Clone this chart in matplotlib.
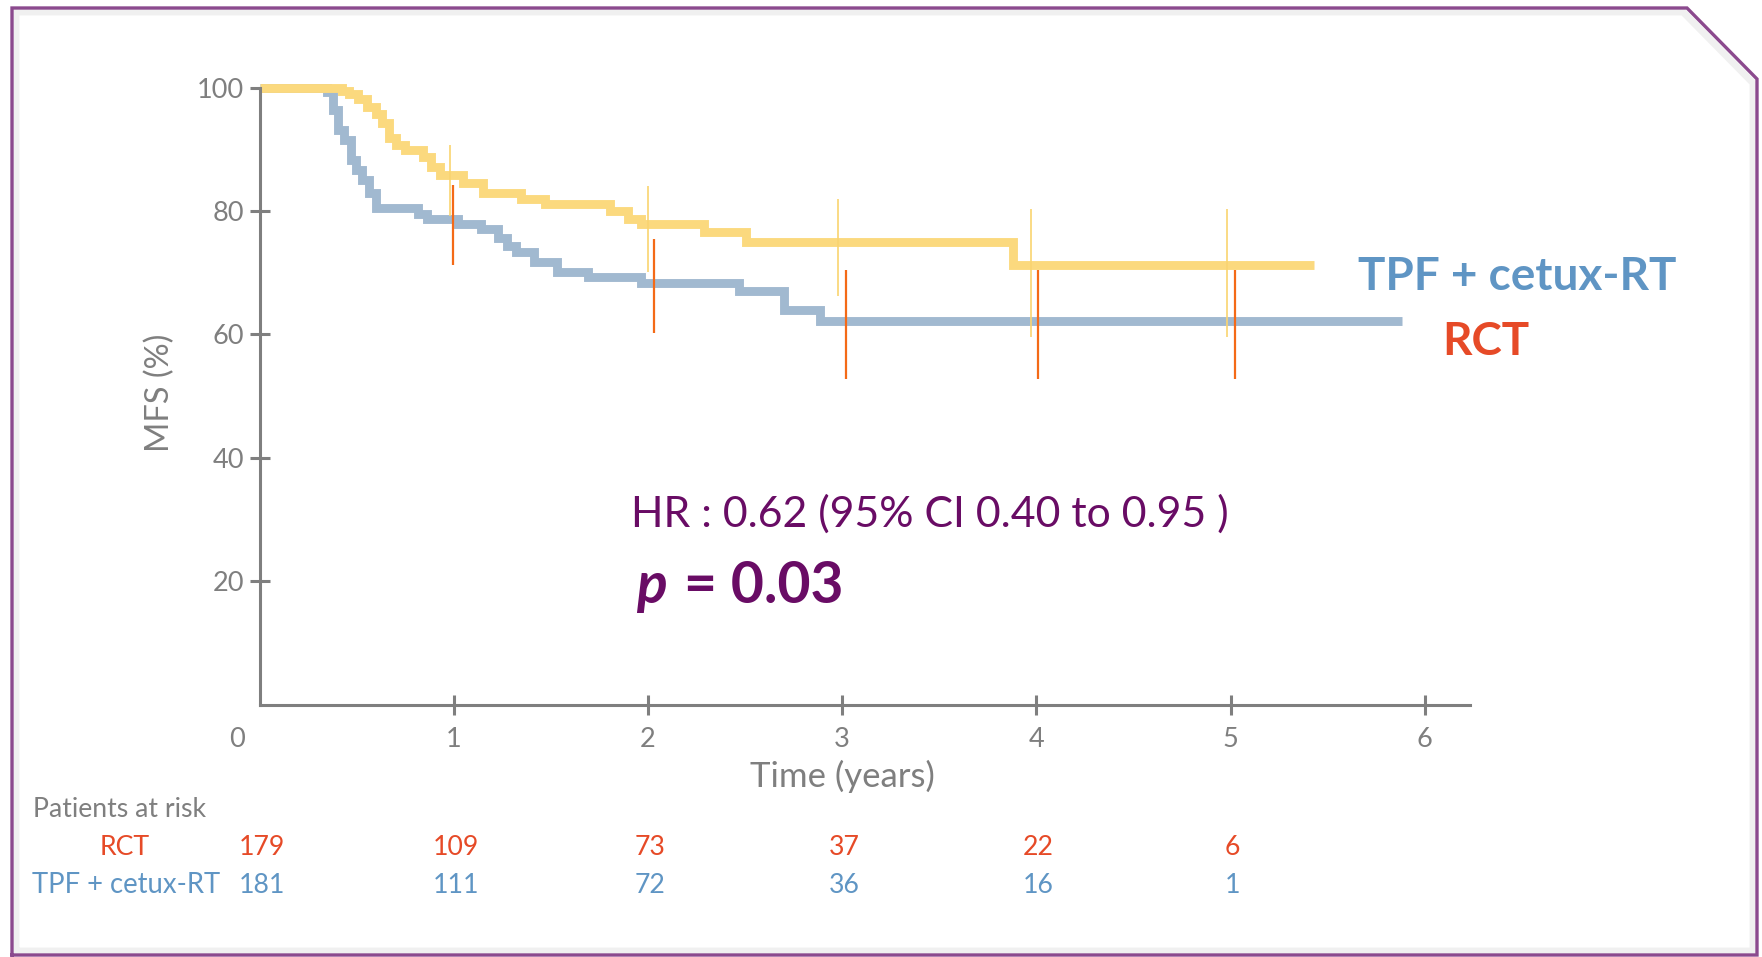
#!/usr/bin/env python3

import matplotlib

matplotlib.use("Agg")

from matplotlib.lines import Line2D
from matplotlib.pyplot import figure, rcParams
from matplotlib.transforms import blended_transform_factory

rcParams["font.family"] = ["Lato", "DejaVu Sans"]

W, H = 1762, 957

GRAY = "#7f7f7f"
PURPLE = "#690c65"
RED = "#e64a27"
BLUE = "#5f95c4"
YELLOW = "#fbd97e"
STEEL = "#a1b9d0"
RED_CI = "#f46a17"
YELLOW_CI = "#f9d470"

# yellow curve (labelled TPF + cetux-RT on the chart)
tpf_time = [0, 0.425, 0.46, 0.506, 0.552, 0.598, 0.632, 0.667, 0.70, 0.747,
            0.839, 0.885, 0.931, 1.046, 1.149, 1.345, 1.471, 1.805, 1.897,
            1.966, 2.287, 2.506, 3.88, 5.43]
tpf_surv = [100, 99.5, 98.9, 98.2, 96.9, 95.8, 94.2, 91.8, 90.7, 89.9,
            88.8, 87.2, 85.9, 84.6, 82.9, 81.9, 81.1, 80.0, 78.7,
            77.9, 76.6, 75.0, 71.2, 71.2]

# blue curve
rct_time = [0, 0.345, 0.379, 0.402, 0.437, 0.471, 0.494, 0.529, 0.563, 0.598,
            0.816, 0.862, 1.023, 1.138, 1.23, 1.276, 1.322, 1.414, 1.529,
            1.69, 1.966, 2.471, 2.70, 2.885, 5.885]
rct_surv = [100, 99.3, 96.4, 93.1, 91.5, 88.3, 86.7, 85.1, 82.9, 80.5,
            79.5, 78.7, 77.9, 77.1, 75.7, 74.4, 73.3, 71.7, 70.1,
            69.3, 68.3, 67.0, 63.9, 62.2, 62.2]

# confidence interval marks
tpf_ci_time = [0.98, 2.0, 2.98, 3.97, 4.98]
tpf_ci_low = [79.2, 70.1, 66.2, 59.6, 59.6]
tpf_ci_high = [90.7, 84.1, 82.0, 80.4, 80.4]
rct_ci_time = [0.995, 2.03, 3.02, 4.01, 5.02]
rct_ci_low = [71.3, 60.2, 52.7, 52.7, 52.7]
rct_ci_high = [84.2, 75.5, 70.5, 70.5, 70.5]

years = [0, 1, 2, 3, 4, 5, 6]
risk_years = [0, 1, 2, 3, 4, 5]
risk_rct = [179, 109, 73, 37, 22, 6]
risk_tpf = [181, 111, 72, 36, 16, 1]
yticks = [20, 40, 60, 80, 100]


def fxy(px, py):
    return px / W, 1 - py / H


def main():
    fig = figure(figsize=(W / 100, H / 100), dpi=100)
    ax = fig.add_axes([259.6 / W, 1 - 704.6 / H, 1209.9 / W, 617.0 / H])
    ax.set_xlim(0, 6.23)
    ax.set_ylim(0, 100)

    kwargs = {
        "where": "post",
        "linewidth": 6.4,
        "solid_joinstyle": "miter",
        "solid_capstyle": "butt",
        "clip_on": False,
    }
    ax.step(rct_time, rct_surv, color=STEEL, **kwargs)
    ax.step(tpf_time, tpf_surv, color=YELLOW, **kwargs)
    ax.vlines(tpf_ci_time, tpf_ci_low, tpf_ci_high, color=YELLOW_CI,
              linewidth=1.2, zorder=3)
    ax.vlines(rct_ci_time, rct_ci_low, rct_ci_high, color=RED_CI,
              linewidth=1.6, zorder=3)

    for side in ("top", "right"):
        ax.spines[side].set_visible(False)
    for side in ("left", "bottom"):
        ax.spines[side].set_color(GRAY)
        ax.spines[side].set_linewidth(2.2)
    ax.set_xticks(years[1:])
    ax.set_xticklabels([])
    ax.set_yticks(yticks)
    ax.set_yticklabels([str(v) for v in yticks])
    ax.tick_params(axis="both", direction="inout", length=14, width=2.2,
                   color=GRAY)
    ax.tick_params(axis="y", labelsize=19.5, labelcolor=GRAY, pad=4.2)

    below = blended_transform_factory(ax.transData, fig.transFigure)
    for t in years:
        x = t if t else -0.116
        ax.text(x, 1 - 746.7 / H, str(t), transform=below, ha="center",
                va="baseline", fontsize=19.5, color=GRAY)
    ax.text(3.0, 1 - 786.7 / H, "Time (years)", transform=below,
            ha="center", va="baseline", fontsize=25, color=GRAY)
    fig.text(*fxy(160, 393), "MFS (%)", rotation=90, ha="center",
             va="center", fontsize=23.5, color=GRAY)

    fig.text(*fxy(631, 526.7), "HR : 0.62 (95% CI 0.40 to 0.95 )",
             ha="left", va="baseline", fontsize=30.8, color=PURPLE)
    fig.text(*fxy(636, 603), "p", ha="left", va="baseline", fontsize=41,
             fontweight="bold", fontstyle="italic", color=PURPLE)
    fig.text(*fxy(684, 603), "= 0.03", ha="left", va="baseline",
             fontsize=41, fontweight="bold", color=PURPLE)

    fig.text(*fxy(1358, 290), "TPF + cetux-RT", ha="left", va="baseline",
             fontsize=33, fontweight="bold", color=BLUE)
    fig.text(*fxy(1442, 355), "RCT", ha="left", va="baseline",
             fontsize=33, fontweight="bold", color=RED)

    fig.text(*fxy(33, 816.7), "Patients at risk", ha="left",
             va="baseline", fontsize=19.2, color=GRAY)
    fig.text(*fxy(125, 855), "RCT", ha="center", va="baseline",
             fontsize=19.2, color=RED)
    fig.text(*fxy(126, 893.3), "TPF + cetux-RT", ha="center",
             va="baseline", fontsize=19.8, color=BLUE)
    for (t, a, b) in zip(risk_years, risk_rct, risk_tpf):
        ax.text(t + 0.01, 1 - 855 / H, str(a), transform=below,
                ha="center", va="baseline", fontsize=19.2, color=RED)
        ax.text(t + 0.01, 1 - 893.3 / H, str(b), transform=below,
                ha="center", va="baseline", fontsize=19.2, color=BLUE)

    # slide frame with the clipped top-right corner
    frame_x = [12, 12, 1687, 1757, 1757, 12]
    frame_y = [955, 8, 8, 79, 955, 955]
    shadow = Line2D([(x - 4 if x > 900 else x + 4) / W for x in frame_x],
                    [1 - (y + 4 if y < 500 else y - 4) / H for y in frame_y],
                    color="#000000", alpha=0.06, linewidth=5,
                    transform=fig.transFigure)
    frame = Line2D([x / W for x in frame_x], [1 - y / H for y in frame_y],
                   color="#8b4a8e", linewidth=2.4, solid_joinstyle="miter",
                   transform=fig.transFigure)
    fig.lines.extend([shadow, frame])

    fig.savefig("out.png", dpi=100)


if __name__ == "__main__":
    main()
